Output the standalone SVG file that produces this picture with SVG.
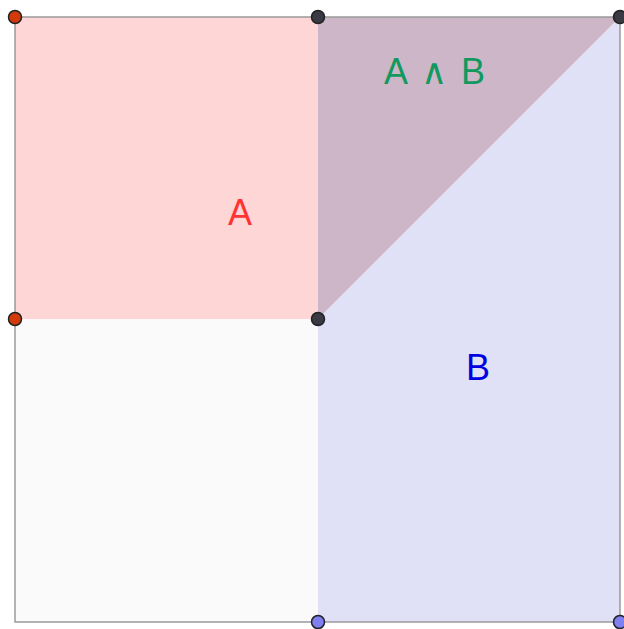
<svg xmlns="http://www.w3.org/2000/svg" width="624" height="629" viewBox="0 0 624 629">
<style>
.lbl{font-family:"Liberation Sans",Arial,sans-serif;font-size:36px;text-anchor:middle}
.pt{stroke:#222;stroke-width:1.5}
</style>
<rect width="624" height="629" fill="#ffffff"/>
<g id="regions">
<rect id="lowerleft" x="15" y="319" width="303" height="303" fill="#fafafa"/>
<rect id="A" x="15" y="17" width="303" height="302" fill="#ffd6d6"/>
<polygon id="B" points="318,319 620,17 620,622 318,622" fill="#e0e0f6"/>
<polygon id="AandB" points="318,17 620,17 318,319" fill="#cdb6c8"/>
</g>
<g id="connectors">
<rect x="15" y="17" width="605" height="605" fill="none" stroke="#9a9a9a" stroke-width="1.5"/>
</g>
<g id="labels">
<text class="lbl" x="240" y="225" fill="#ff3333">A</text>
<text class="lbl" x="478" y="380" fill="#0000e0">B</text>
<text class="lbl" x="396" y="84" fill="#119960">A</text>
<text class="lbl" x="434" y="84" fill="#119960" font-family="DejaVu Sans,sans-serif" font-size="40">∧</text>
<text class="lbl" x="473" y="84" fill="#119960">B</text>
</g>
<g id="points">
<circle class="pt" cx="15" cy="17" r="6.5" fill="#d23a0a"/>
<circle class="pt" cx="15" cy="319" r="6.5" fill="#d23a0a"/>
<circle class="pt" cx="318" cy="17" r="6.5" fill="#3a3a44"/>
<circle class="pt" cx="620" cy="17" r="6.5" fill="#3a3a44"/>
<circle class="pt" cx="318" cy="319" r="6.5" fill="#3a3a44"/>
<circle class="pt" cx="318" cy="622" r="6.5" fill="#7f7ff2"/>
<circle class="pt" cx="620" cy="622" r="6.5" fill="#7f7ff2"/>
</g>
</svg>
